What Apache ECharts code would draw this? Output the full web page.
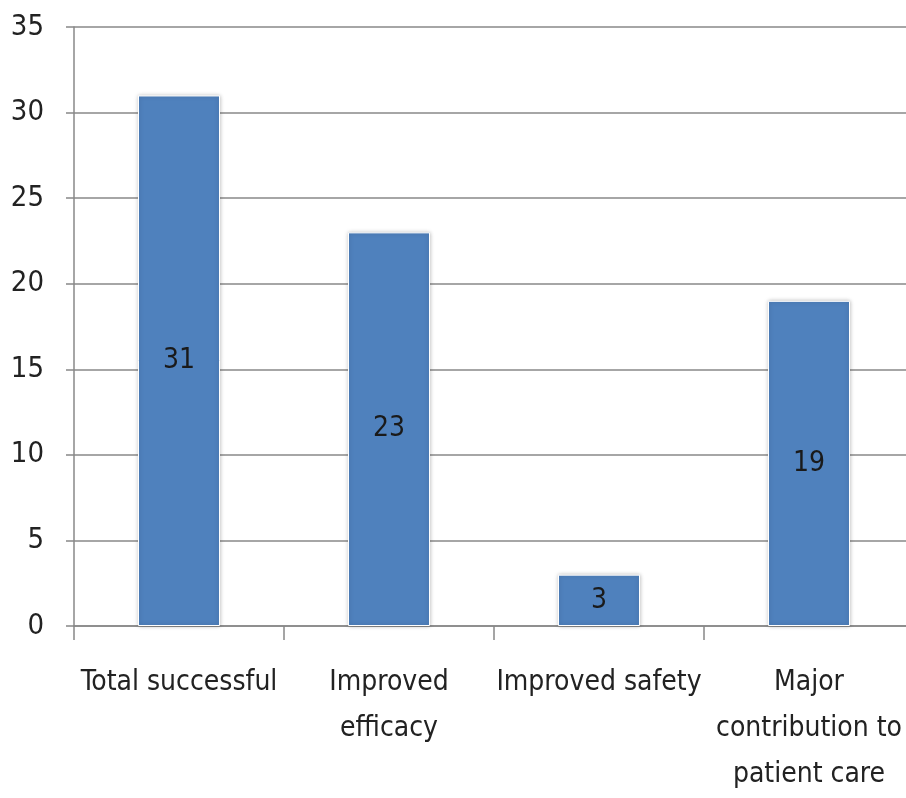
<!DOCTYPE html>
<html>
<head>
<meta charset="utf-8">
<script src="https://cdn.jsdelivr.net/npm/echarts@6/dist/echarts.min.js"></script>
<style>
  html, body { margin: 0; padding: 0; background: #fff; overflow: hidden; }
  #chart { width: 920px; height: 798px; }
</style>
</head>
<body>
<div id="chart"></div>
<script>
// data
const categories = ['Total successful', 'Improved\nefficacy', 'Improved safety', 'Major\ncontribution to\npatient care'];
const counts = [31, 23, 3, 19];
const yTicks = { min: 0, max: 35, interval: 5 };

const font = '"DejaVu Sans Condensed", "Liberation Sans", sans-serif';

let myChart = echarts.init(document.getElementById('chart'));
myChart.setOption({
  animation: false,
  grid: { left: 74, right: 6, top: 27, bottom: 166, containLabel: false },
  xAxis: {
    type: 'category',
    data: categories,
    axisLine: { lineStyle: { color: '#888', width: 1.5 } },
    axisTick: { show: true, length: 14, lineStyle: { color: '#888', width: 1.5 } },
    axisLabel: {
      color: '#222', fontFamily: font, fontSize: 28, lineHeight: 46,
      margin: 34, interval: 0, verticalAlign: 'top'
    }
  },
  yAxis: {
    type: 'value',
    min: yTicks.min, max: yTicks.max, interval: yTicks.interval,
    axisLine: { show: true, lineStyle: { color: '#888', width: 1.5 } },
    axisTick: { show: true, length: 8, lineStyle: { color: '#888', width: 1.5 } },
    splitLine: { lineStyle: { color: '#888', width: 1.5 } },
    axisLabel: { color: '#222', fontFamily: font, fontSize: 29, margin: 30 }
  },
  series: [{
    type: 'bar',
    data: counts,
    barWidth: 82,
    itemStyle: {
      color: '#4F81BD',
      borderColor: '#ffffff', borderWidth: 1,
      shadowColor: 'rgba(0,0,0,0.25)', shadowBlur: 4
    },
    label: {
      show: true, position: 'inside',
      color: '#1a1a1a', fontFamily: font, fontSize: 28
    }
  }]
});
</script>
</body>
</html>
